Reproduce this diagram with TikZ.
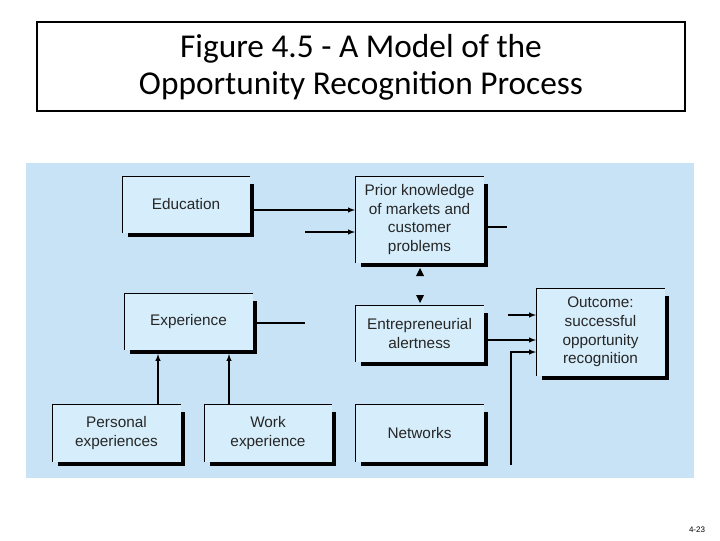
\documentclass[tikz,border=0pt]{standalone}
\usepackage{fontspec}
\setmainfont{Liberation Sans}
\newfontfamily\titlefont{Carlito}
\begin{document}
\begin{tikzpicture}[x=0.75pt,y=-0.75pt,
  txt/.style={font=\fontsize{11.5}{14}\selectfont, align=center, text=black!85},
  conn/.style={line width=0.8pt},
  arr/.style={conn,-latex}]
\useasboundingbox (0,0) rectangle (720,540);
\fill[white] (0,0) rectangle (720,540);
% title
\draw[line width=1.5pt] (37,22) rectangle (685,111);
\node[font=\titlefont\fontsize{25}{28}\selectfont, align=center] (title) at (361,67) {Figure 4.5 - A Model of the\\Opportunity Recognition Process};
% panel
\fill[fill={rgb,255:red,200;green,227;blue,245}] (26,163) rectangle (694,478);
\newcommand{\mybox}[6]{% name, x1,y1,x2,y2, text
  \fill[fill={rgb,255:red,214;green,237;blue,251}] (#2,#3) rectangle (#4,#5);
  \draw[line width=0.5pt] (#2,#5) -- (#2,#3) -- (#4,#3);
  \draw[line width=2.6pt] (#2+6,#5+2) -- (#4+2,#5+2) -- (#4+2,#3+8);
  \node[txt] (#1) at ({(#2+#4)/2},{(#3+#5)/2}) {#6};
  \coordinate (#1-nw) at (#2,#3);
}
\mybox{edu}{122}{176}{250}{233}{Education}
\mybox{prior}{355}{176}{484}{263}{Prior knowledge\\of markets and\\customer\\problems}
\mybox{exp}{124}{293}{253}{350}{Experience}
\mybox{ent}{355}{305}{484}{362}{Entrepreneurial\\alertness}
\mybox{out}{536}{288}{665}{376}{Outcome:\\successful\\opportunity\\recognition}
\mybox{pers}{52}{404}{181}{462}{Personal\\experiences}
\mybox{work}{204}{404}{332}{462}{Work\\experience}
\mybox{net}{355}{404}{484}{462}{Networks}
% connectors
\coordinate (a1) at (254,210); \coordinate (a1e) at (355,210);
\draw[arr] (a1) -- (a1e);
\coordinate (a2) at (305,232); \coordinate (a2e) at (355,232);
\draw[arr] (a2) -- (a2e);
\coordinate (p1) at (484,227); \coordinate (p2) at (507,227);
\draw[conn] (p1) -- (p2);
\coordinate (x1) at (256,323); \coordinate (x2) at (305,323);
\draw[conn] (x1) -- (x2);
\coordinate (t1) at (158,404); \coordinate (t1e) at (158,354);
\draw[arr] (t1) -- (t1e);
\coordinate (t2) at (229,404); \coordinate (t2e) at (229,354);
\draw[arr] (t2) -- (t2e);
\fill (416,276) -- (424,276) -- (420,268) -- cycle;
\fill (416,295) -- (424,295) -- (420,303) -- cycle;
\coordinate (o1) at (508,315); \coordinate (o1e) at (536,315);
\draw[arr] (o1) -- (o1e);
\coordinate (o2) at (486,340); \coordinate (o2e) at (536,340);
\draw[arr] (o2) -- (o2e);
\coordinate (o3) at (511,465); \coordinate (o3e) at (536,352);
\draw[arr] (o3) |- (o3e);
\node[font=\fontsize{6}{7}\selectfont] (pg) at (697,530) {4-23};
\end{tikzpicture}
\end{document}
